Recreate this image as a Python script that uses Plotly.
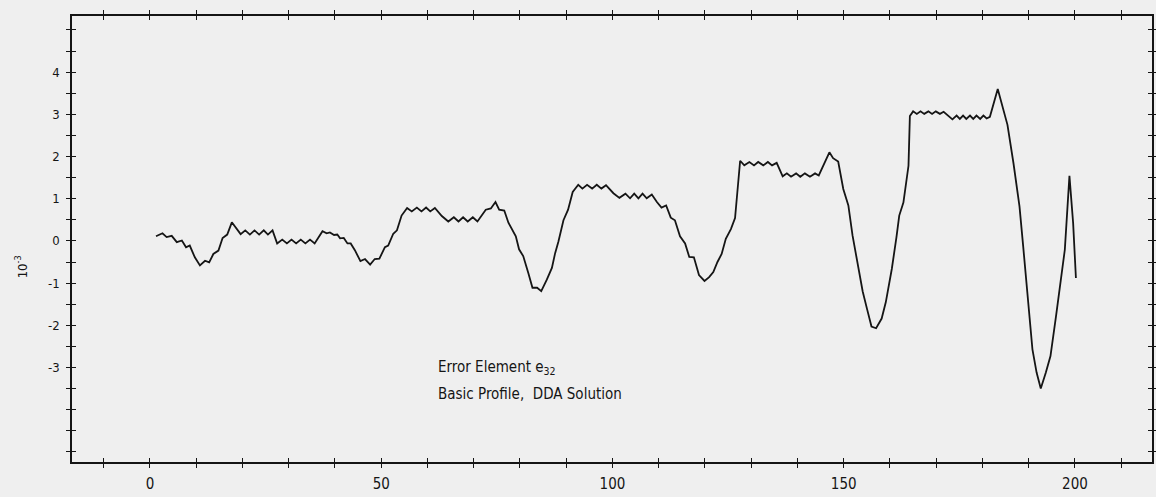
import plotly.graph_objects as go

# ---- data (x in steps, e32 in units of 1e-3) ----
step = [1.3, 2.7, 3.6, 4.7, 5.8, 6.9, 7.8, 8.6, 9.7, 10.8, 11.9, 12.8, 13.7, 14.8, 15.7, 16.7, 17.7, 18.7, 19.6,
        20.6, 21.6, 22.6, 23.6, 24.6, 25.5, 26.5, 27.5,
        28.6, 29.6, 30.6, 31.6, 32.6, 33.6, 34.6, 35.6,
        37.3, 38.2, 38.9, 39.8, 40.5, 41.1, 41.9, 42.7, 43.4, 44.3, 45.5, 46.5, 47.6, 48.6, 49.6, 50.8, 51.5,
        52.6, 53.4, 54.4, 55.6,
        56.6, 57.7, 58.7, 59.7, 60.6, 61.6, 63.1,
        64.5, 65.7, 66.7, 67.7, 68.7, 69.8, 70.8, 71.7, 72.6, 73.7, 74.7, 75.5, 76.6, 77.5, 78.3, 79.1, 79.8,
        80.7, 81.8, 82.7, 83.7, 84.6, 85.8, 86.9, 87.6, 88.3, 89.4, 90.4, 91.4, 92.6,
        93.5, 94.5, 95.6, 96.6, 97.6, 98.6, 100.2, 101.5,
        102.8, 103.8, 104.7, 105.6, 106.5, 107.4, 108.5,
        109.6, 110.6, 111.6, 112.6, 113.5, 114.6, 115.7, 116.6, 117.6, 118.7, 119.9, 120.9, 121.8, 122.7,
        123.6, 124.5, 125.6, 126.5, 126.9, 127.6,
        128.5, 129.6, 130.6, 131.5, 132.6, 133.6, 134.5, 135.5, 136.8,
        137.7, 138.6, 139.7, 140.6, 141.6, 142.7, 143.8, 144.6,
        146.9, 147.7, 148.8, 149.9, 151.0, 151.9, 152.9, 154.1, 155.1, 156.0, 157.0, 158.2, 159.1, 160.4,
        161.4, 162.0, 162.9, 163.6, 164.0, 164.3, 165.0,
        165.8, 166.6, 167.4, 168.3, 169.1, 169.9, 170.8, 171.6, 173.5,
        174.4, 175.1, 175.8, 176.5, 177.3, 178.0, 178.7, 179.5, 180.2, 180.9, 181.6,
        183.3, 185.4, 186.7, 188.0, 188.8, 189.9, 190.8, 191.7, 192.6, 193.7, 194.7, 195.9, 197.1, 197.8,
        198.8, 199.6, 200.2]

e32 = [0.11, 0.18, 0.09, 0.12, -0.03, 0.01, -0.15, -0.11, -0.39, -0.58, -0.47, -0.51, -0.31, -0.23, 0.07, 0.15, 0.44, 0.28, 0.16,
       0.25, 0.15, 0.25, 0.15, 0.25, 0.15, 0.25, -0.06,
       0.03, -0.06, 0.03, -0.06, 0.03, -0.06, 0.03, -0.06,
       0.23, 0.18, 0.20, 0.14, 0.15, 0.06, 0.07, -0.06, -0.06, -0.22, -0.48, -0.43, -0.56, -0.43, -0.42, -0.15, -0.11,
       0.17, 0.25, 0.60, 0.78,
       0.70, 0.79, 0.70, 0.79, 0.70, 0.78, 0.59,
       0.46, 0.56, 0.46, 0.56, 0.46, 0.56, 0.46, 0.59, 0.74, 0.77, 0.92, 0.74, 0.72, 0.43, 0.27, 0.11, -0.20,
       -0.36, -0.76, -1.11, -1.11, -1.19, -0.92, -0.64, -0.29, -0.02, 0.49, 0.74, 1.16, 1.33,
       1.24, 1.33, 1.24, 1.33, 1.24, 1.32, 1.13, 1.02,
       1.12, 1.01, 1.12, 1.01, 1.12, 1.01, 1.10,
       0.92, 0.79, 0.84, 0.55, 0.49, 0.11, -0.06, -0.38, -0.39, -0.81, -0.95, -0.86, -0.74, -0.50,
       -0.31, 0.05, 0.28, 0.54, 1.03, 1.90,
       1.79, 1.87, 1.79, 1.87, 1.79, 1.87, 1.79, 1.85, 1.53,
       1.60, 1.52, 1.60, 1.52, 1.60, 1.52, 1.60, 1.55,
       2.10, 1.96, 1.88, 1.23, 0.84, 0.13, -0.46, -1.20, -1.64, -2.03, -2.07, -1.84, -1.45, -0.66,
       0.09, 0.60, 0.91, 1.46, 1.78, 2.96, 3.07,
       3.01, 3.07, 3.01, 3.07, 3.01, 3.07, 3.01, 3.06, 2.88,
       2.97, 2.89, 2.97, 2.89, 2.97, 2.89, 2.97, 2.89, 2.97, 2.90, 2.94,
       3.60, 2.75, 1.84, 0.82, -0.13, -1.47, -2.57, -3.12, -3.50, -3.12, -2.73, -1.78, -0.76, -0.21,
       1.54, 0.42, -0.88]

# all tick marks (every 10 steps / every 0.5e-3) and the labelled ones
x_ticks = list(range(-10, 211, 10))
x_label_vals = [0, 50, 100, 150, 200]
x_label_text = ["0", "50", "100", "150", "200"]
y_ticks = [v / 2 for v in range(-10, 11)]
y_label_vals = [-3, -2, -1, 0, 1, 2, 3, 4]
y_label_text = ["-3", "-2", "-1", "0", "1", "2", "3", "4"]

title_lines = ["Error Element e<sub>32</sub>", "Basic Profile,  DDA Solution"]
y_title = "10<sup>-3</sup>"

X_RANGE = [-16.86, 216.65]
Y_RANGE = [-5.24, 5.33]
BG = "#efefef"
INK = "#151515"
FONT = "Liberation Sans Narrow, DejaVu Sans Condensed, Arial Narrow, sans-serif"

fig = go.Figure()
fig.add_trace(go.Scatter(x=step, y=e32, mode="lines",
                         line=dict(color=INK, width=1.8), hoverinfo="skip", showlegend=False))
# helper (empty) trace so that the overlay axes carrying the outer half of the ticks are drawn
fig.add_trace(go.Scatter(x=[], y=[], xaxis="x2", yaxis="y2", showlegend=False))

common = dict(showgrid=False, zeroline=False, showline=True, linecolor=INK, linewidth=1.5,
              tickcolor=INK, tickwidth=1.3, ticklen=4, mirror="ticks", automargin=False)
minor_in = dict(ticks="inside", ticklen=4, tickwidth=1.3, tickcolor=INK, showgrid=False, tickmode="array")

fig.update_layout(
    width=1156, height=497, autosize=False,
    margin=dict(l=72, r=4, t=16, b=35, pad=0, autoexpand=False),
    paper_bgcolor=BG, plot_bgcolor=BG,
    font=dict(family=FONT, color=INK),
    xaxis=dict(range=X_RANGE, tickmode="array", tickvals=x_label_vals, ticktext=x_label_text,
               ticks="inside", tickfont=dict(size=15), ticklabelstandoff=7,
               minor=dict(tickvals=x_ticks, **minor_in), **common),
    yaxis=dict(range=Y_RANGE, tickmode="array", tickvals=y_label_vals, ticktext=y_label_text,
               ticks="inside", tickfont=dict(size=13), ticklabelstandoff=8,
               minor=dict(tickvals=y_ticks, **minor_in), **common),
    xaxis2=dict(range=X_RANGE, overlaying="x", side="bottom", tickmode="array", tickvals=x_ticks,
                ticks="outside", showticklabels=False, **common),
    yaxis2=dict(range=Y_RANGE, overlaying="y", side="left", tickmode="array", tickvals=y_ticks,
                ticks="outside", showticklabels=False, **common),
)

fig.add_annotation(x=61.8, y=-3.0, xref="x", yref="y", text=title_lines[0], showarrow=False,
                   xanchor="left", yanchor="middle", font=dict(size=15, family=FONT, color=INK))
fig.add_annotation(x=61.8, y=-3.62, xref="x", yref="y", text=title_lines[1], showarrow=False,
                   xanchor="left", yanchor="middle", font=dict(size=15, family=FONT, color=INK))
fig.add_annotation(x=-0.047, y=0.437, xref="paper", yref="paper", text=y_title, showarrow=False,
                   textangle=-90, xanchor="center", yanchor="middle", font=dict(size=13, family=FONT, color=INK))

fig.write_html("out.html", config={"displayModeBar": False},
               post_script="document.body.style.margin='0';document.body.style.overflow='hidden';")
